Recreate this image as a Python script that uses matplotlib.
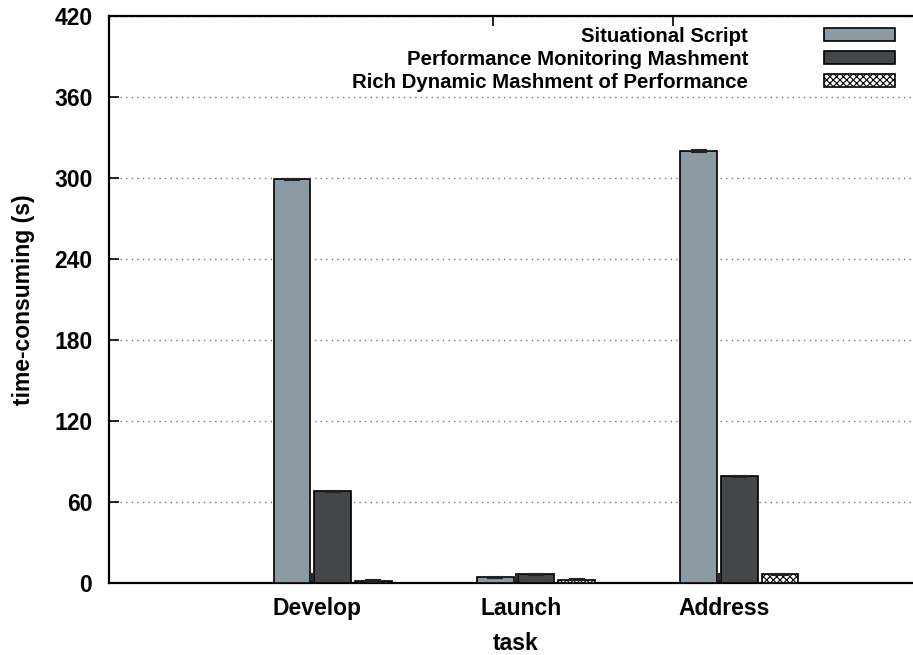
import numpy as np
import matplotlib
matplotlib.use("Agg")
import matplotlib.pyplot as plt
import matplotlib.transforms as mtransforms

plt.rcParams['font.family'] = ['Liberation Sans', 'DejaVu Sans']
plt.rcParams['font.weight'] = 'bold'
plt.rcParams['hatch.linewidth'] = 0.8

tasks = ["Develop", "Launch", "Address"]
series_names = ["Situational Script",
                "Performance Monitoring Mashment",
                "Rich Dynamic Mashment of Performance"]
situational = [299, 4.3, 320]
monitoring = [68, 6.3, 79]
rich_dynamic = [1.5, 2.3, 6.5]
errors = [0.4, 0.3, 0.4]
yticks = [0, 60, 120, 180, 240, 300, 360, 420]

fig = plt.figure(figsize=(9.13, 6.55), dpi=100)
ax = fig.add_axes([109 / 913, 1 - 583 / 655, (922.5 - 109) / 913, (583 - 16) / 655])

x = np.arange(len(tasks))
width = 0.18
offsets = [-0.1, 0.1, 0.3]
styles = [dict(color="#8c9aa3", hatch=None),
          dict(color="#444749", hatch=None),
          dict(color="white", hatch="xxxxx")]
all_vals = [situational, monitoring, rich_dynamic]

handles = []
for vals, off, st, name in zip(all_vals, offsets, styles, series_names):
    b = ax.bar(x + off, vals, width, color=st["color"], edgecolor="black",
               linewidth=1.2, hatch=st["hatch"], label=name, zorder=3,
               yerr=errors, capsize=6,
               error_kw=dict(ecolor="#222222", elinewidth=1.0, capthick=1.5, zorder=4))
    handles.append(b)

ax.set_xlim(-1, 3)
ax.set_ylim(0, 420)
ax.set_yticks(yticks)
ax.set_xticks(x)
ax.set_xticklabels(tasks, fontsize=16.5, fontweight="bold")
ax.tick_params(axis="y", labelsize=16.5, direction="in", length=7, width=1.2, pad=12)
ax.tick_params(axis="x", direction="in", length=7, width=1.2, pad=10)
for lab in ax.get_yticklabels():
    lab.set_fontweight("bold")
shift = mtransforms.ScaledTranslation(5 / 100, 0, fig.dpi_scale_trans)
for lab in ax.get_xticklabels():
    lab.set_transform(lab.get_transform() + shift)

ax.yaxis.grid(True, linestyle=(0, (1, 3)), color="#777777", linewidth=1.0, zorder=0)
ax.set_axisbelow(True)

for s in ax.spines.values():
    s.set_linewidth(1.6)

top = ax.secondary_xaxis("top")
top.set_xticks([0.889, 1.774])
top.set_xticklabels([])
top.tick_params(direction="in", length=7, width=1.2)

ax.set_xlabel("task", fontsize=16.5, fontweight="bold", labelpad=8.5)
ax.set_ylabel("time-consuming (s)", fontsize=16.5, fontweight="bold", labelpad=14)

leg = fig.legend(handles=handles, labels=series_names, loc="upper right",
                 bbox_to_anchor=(895 / 913, 1 - 27 / 655), frameon=False,
                 markerfirst=False, fontsize=14.7, handlelength=3.5,
                 handleheight=0.6, labelspacing=0.2, borderpad=0,
                 borderaxespad=0, handletextpad=3.7)
for t in leg.get_texts():
    t.set_fontweight("bold")
    t.set_ha("right")

fig.savefig("out.png", dpi=100)
